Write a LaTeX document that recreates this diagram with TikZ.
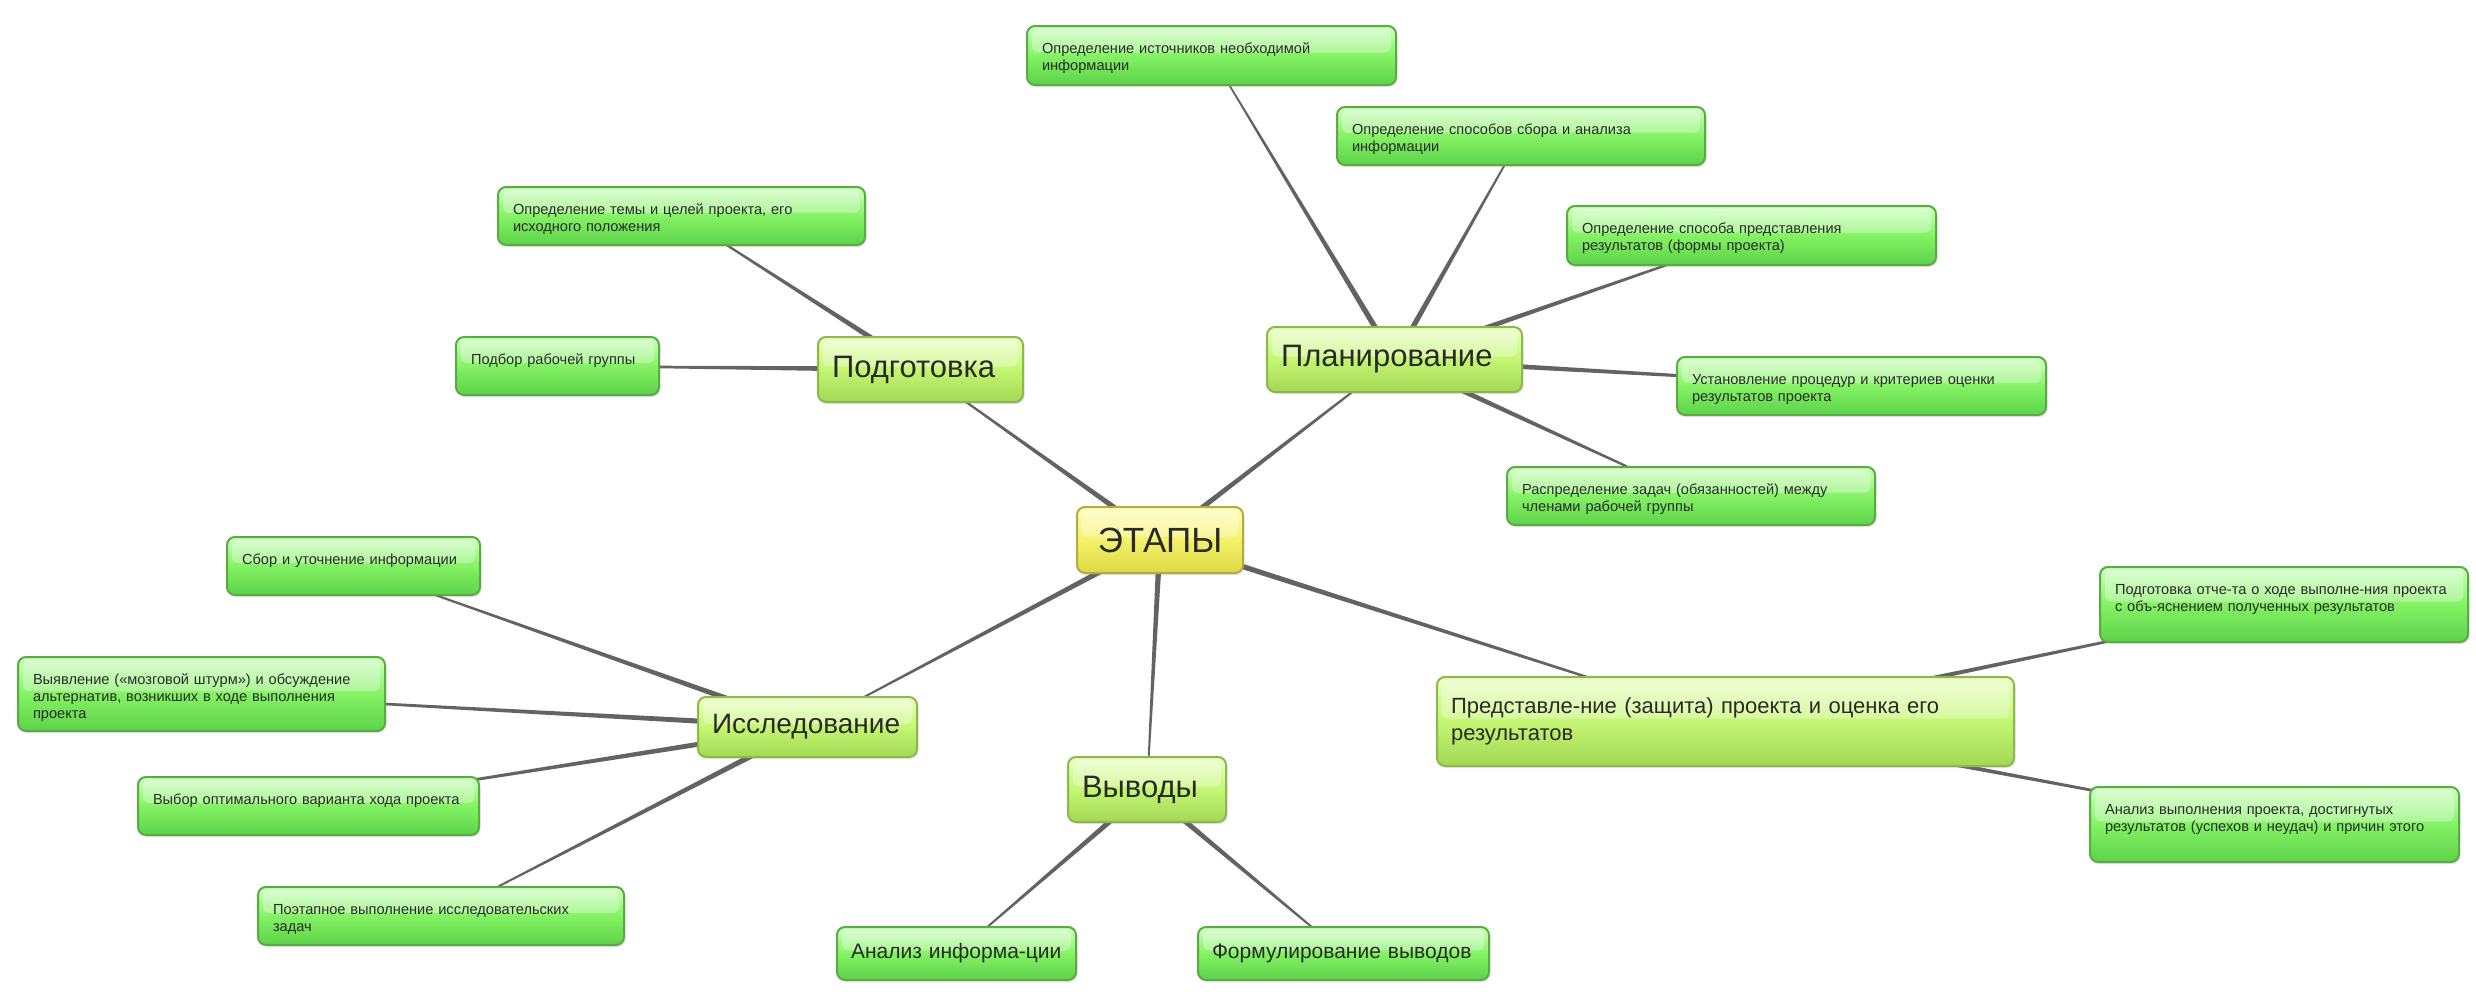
\documentclass[tikz,border=0pt]{standalone}
\usepackage{fontspec}
\setmainfont{Liberation Sans}
\usetikzlibrary{calc,shadows,backgrounds}

\definecolor{linkgray}{HTML}{636363}
\definecolor{txt}{HTML}{2A2A2A}
\definecolor{leaftop}{HTML}{D2FFC4}
\definecolor{leafmid}{HTML}{84F264}
\definecolor{leafbot}{HTML}{5DD24A}
\definecolor{leafdraw}{HTML}{58AC42}
\definecolor{brtop}{HTML}{ECFFC8}
\definecolor{brmid}{HTML}{C4F672}
\definecolor{brbot}{HTML}{A2D854}
\definecolor{brdraw}{HTML}{8CBA48}
\definecolor{roottop}{HTML}{FFFFBC}
\definecolor{rootmid}{HTML}{F4F16A}
\definecolor{rootbot}{HTML}{DDD946}
\definecolor{rootdraw}{HTML}{B3AC42}

\begin{document}
\begin{tikzpicture}[x=1pt,y=-1pt,
	box/.style={rounded corners=8pt,line width=2pt,text=txt,
		drop shadow={shadow xshift=1.5pt,shadow yshift=-2pt,opacity=0.2},
		path picture={\fill[white,opacity=0.3,rounded corners=6pt]
			([xshift=5pt,yshift=-3pt]path picture bounding box.north west) rectangle
			([xshift=-5pt,yshift=3pt]path picture bounding box.east);}},
	root/.style={box,draw=rootdraw,top color=roottop,bottom color=rootbot,middle color=rootmid,
		font=\fontsize{35}{40}\selectfont,minimum width=166pt,minimum height=66pt},
	branch/.style={box,draw=brdraw,top color=brtop,bottom color=brbot,middle color=brmid,
		font=\fontsize{31}{36}\selectfont,align=left,inner xsep=14pt,inner ysep=0pt,minimum height=65pt},
	leafcol/.style={box,draw=leafdraw,top color=leaftop,bottom color=leafbot,middle color=leafmid},
	leaf/.style={leafcol,font=\fontsize{14.6}{17}\selectfont,align=left,
		inner xsep=15pt,inner ysep=16pt,text height=11pt,text depth=15pt},
	leafbig/.style={leafcol,font=\fontsize{21}{25}\selectfont,align=left,
		inner xsep=14pt,inner ysep=0pt,minimum height=53pt},
	taper/.style={fill=linkgray,to path={
		($(\tikztostart)!3pt!90:(\tikztotarget)$) -- ($(\tikztotarget)!0.6pt!-90:(\tikztostart)$)
		-- ($(\tikztotarget)!0.6pt!90:(\tikztostart)$) -- ($(\tikztostart)!3pt!-90:(\tikztotarget)$) -- cycle}}]
	\useasboundingbox (0,0) rectangle (2476,991);

	\node[root] (etapy) at (1160,540) {ЭТАПЫ};

	\node[branch,text width=177pt] (pod) at (920.5,369.5) {Подготовка};
	\node[branch,text width=227pt] (plan) at (1394.5,359.5) {Планирование};
	\node[branch,text width=191pt,minimum height=60pt,font=\fontsize{28}{33}\selectfont] (issl) at (807.5,727) {Исследование};
	\node[branch,text width=130pt] (vyv) at (1147,789.5) {Выводы};
	\node[branch,text width=549pt,minimum height=89pt,font=\fontsize{22}{27}\selectfont] (pred) at (1725.5,721.5) {Представле-ние (защита) проекта и оценка его\\результатов};

	\node[leaf,text width=337pt] (tema) at (681.5,216) {Определение темы и целей проекта, его\\исходного положения};
	\node[leaf,text width=173pt] (podbor) at (557.5,366) {Подбор рабочей группы};

	\node[leaf,text width=339pt,text depth=16pt] (istoch) at (1211.5,55.5) {Определение источников необходимой\\информации};
	\node[leaf,text width=338pt] (sbor) at (1521,136) {Определение способов сбора и анализа\\информации};
	\node[leaf,text width=339pt,text depth=16pt] (forma) at (1751.5,235.5) {Определение способа представления\\результатов (формы проекта)};
	\node[leaf,text width=339pt] (kriter) at (1861.5,386) {Установление процедур и критериев оценки\\результатов проекта};
	\node[leaf,text width=338pt] (raspr) at (1691,496) {Распределение задач (обязанностей) между\\членами рабочей группы};

	\node[leaf,text width=223pt] (sborinf) at (353.5,566) {Сбор и уточнение информации};
	\node[leaf,text width=337pt,text depth=31pt] (vyyavl) at (201.5,694) {Выявление («мозговой штурм») и обсуждение\\альтернатив, возникших в ходе выполнения\\проекта};
	\node[leaf,text width=311pt] (vybor) at (308.5,806) {Выбор оптимального варианта хода проекта};
	\node[leaf,text width=336pt] (poetap) at (441,916) {Поэтапное выполнение исследовательских\\задач};

	\node[leafbig,text width=211pt] (analiz) at (956.5,953.5) {Анализ информа-ции};
	\node[leafbig,text width=263pt] (formul) at (1343.5,953.5) {Формулирование выводов};

	\node[leaf,text width=338pt,text depth=32pt] (otchet) at (2284,604.5) {Подготовка отче-та о ходе выполне-ния проекта\\с объ-яснением полученных результатов};
	\node[leaf,text width=339pt,text depth=32pt] (analizvyp) at (2274.5,824.5) {Анализ выполнения проекта, достигнутых\\результатов (успехов и неудач) и причин этого};

	\begin{scope}[on background layer]
		\fill[white] (0,0) rectangle (2476,991);
		%ЭТАПЫ lines
		\path[taper] (etapy) to (pod);
		\path[taper] (etapy) to (plan);
		\path[taper] (etapy) to (issl);
		\path[taper] (etapy) to (vyv);
		\path[taper] (etapy) to (pred);
		%Подготовка lines
		\path[taper] (pod) to (tema);
		\path[taper] (pod) to (podbor);
		%Планирование lines
		\path[taper] (plan) to (istoch);
		\path[taper] (plan) to (sbor);
		\path[taper] (plan) to (forma);
		\path[taper] (plan) to (kriter);
		\path[taper] (plan) to (raspr);
		%Исследование lines
		\path[taper] (issl) to (sborinf);
		\path[taper] (issl) to (vyyavl);
		\path[taper] (issl) to (vybor);
		\path[taper] (issl) to (poetap);
		%Выводы lines
		\path[taper] (vyv) to (analiz);
		\path[taper] (vyv) to (formul);
		%Представление lines
		\path[taper] (pred) to (otchet);
		\path[taper] (pred) to (analizvyp);
	\end{scope}
\end{tikzpicture}
\end{document}
